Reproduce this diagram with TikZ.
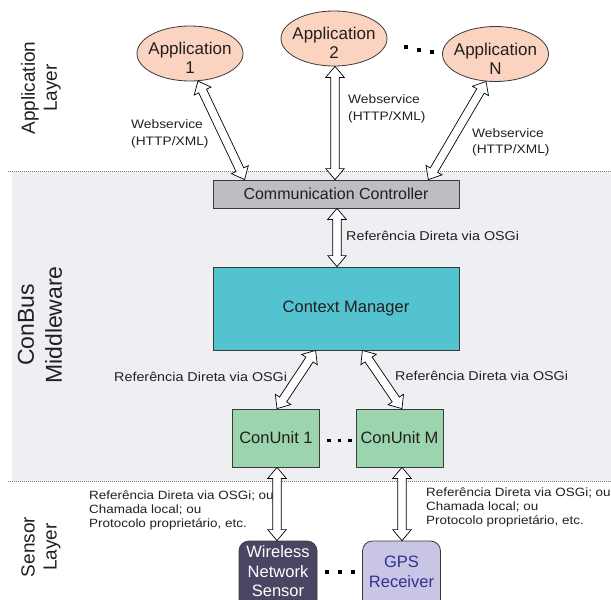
\documentclass[tikz,border=0pt]{standalone}
\usepackage{fontspec}
\setmainfont{Liberation Sans}
\newfontfamily\lblfont[FakeStretch=1.12]{Liberation Sans}
\usetikzlibrary{calc,shapes.geometric}
\definecolor{bandgrey}{HTML}{EEEFF3}
\definecolor{appfill}{HTML}{FBD3C1}
\definecolor{ccfill}{HTML}{BDBEC2}
\definecolor{cmfill}{HTML}{53C4CF}
\definecolor{cufill}{HTML}{9CD4AE}
\definecolor{wnsfill}{HTML}{4B4563}
\definecolor{gpsfill}{HTML}{C8C6E4}
\definecolor{gpstext}{HTML}{2E3192}
\definecolor{txt}{HTML}{231F20}
\definecolor{edge}{HTML}{3A3A3A}
\definecolor{dotgrey}{HTML}{7A7A7A}

\newcommand\hollowarrow[2]{%
  \coordinate (ha1) at ($(#1)!11pt!(#2)$);
  \coordinate (ha2) at ($(#2)!11pt!(#1)$);
  \draw[harrow] (#1) -- ($(ha1)!9.3pt!90:(#2)$) -- ($(ha1)!4.3pt!90:(#2)$)
    -- ($(ha2)!4.3pt!-90:(#1)$) -- ($(ha2)!9.3pt!-90:(#1)$) -- (#2)
    -- ($(ha2)!9.3pt!90:(#1)$) -- ($(ha2)!4.3pt!90:(#1)$)
    -- ($(ha1)!4.3pt!-90:(#2)$) -- ($(ha1)!9.3pt!-90:(#2)$) -- cycle;}

\begin{document}
\begin{tikzpicture}[x=1pt,y=-1pt,
  harrow/.style={draw=black, fill=white, line width=0.7pt, line join=miter},
  appell/.style={ellipse, draw=edge, fill=appfill, line width=0.8pt, minimum width=106pt, minimum height=55pt, inner sep=0pt},
  apptext/.style={align=center, font=\fontsize{17}{19}\selectfont, text=txt, inner sep=0pt},
  ccbox/.style={draw=edge, fill=ccfill, line width=0.8pt, minimum width=246pt, minimum height=28pt, inner sep=0pt, font=\fontsize{16}{19}\selectfont, text=txt},
  cmbox/.style={draw=edge, fill=cmfill, line width=0.8pt, minimum width=246pt, minimum height=83pt, inner sep=0pt, font=\fontsize{16.5}{19}\selectfont, text=txt},
  cubox/.style={draw=edge, fill=cufill, line width=0.8pt, minimum width=87pt, minimum height=58pt, inner sep=0pt, font=\fontsize{16.5}{19}\selectfont, text=txt},
  sensbox/.style={rounded corners=10pt, draw=edge, line width=0.8pt, minimum width=78pt, minimum height=80pt, inner sep=0pt},
  senstext/.style={align=center, font=\fontsize{16.5}{19.5}\selectfont, inner sep=0pt},
  lbl/.style={font=\lblfont\fontsize{12}{14}\selectfont, text=txt, align=left, inner sep=0pt, anchor=west},
  reflbl/.style={lbl, font=\lblfont\fontsize{12.8}{15}\selectfont},
  wslbl/.style={lbl, font=\lblfont\fontsize{12.3}{16.5}\selectfont},
  sidelbl/.style={rotate=90, align=center, font=\fontsize{19}{22}\selectfont, text=txt, inner sep=0pt},
  dotline/.style={dotgrey, line width=0.8pt, dash pattern=on 1pt off 1pt}
]
\useasboundingbox (0,0) rectangle (611,600);
\begin{scope}
\clip (0,0) rectangle (611,600);

% middleware band
\fill[bandgrey] (12,172) rectangle (611,481);
\draw[dotline] (8,171) -- (611,171);
\draw[dotline] (8,481) -- (611,481);

% side labels
\node[sidelbl] (lapp) at (41,88) {Application\\Layer};
\node[sidelbl, font=\fontsize{23}{28}\selectfont] (lmid) at (40,325) {ConBus\\Middleware};
\node[sidelbl] (lsen) at (41,547) {Sensor\\Layer};

% applications
\node[appell] (app1) at (190,53.5) {};
\node[apptext] (app1t) at (190,58) {Application\\1};
\node[appell] (app2) at (334,38.5) {};
\node[apptext] (app2t) at (334,43) {Application\\2};
\node[appell] (appN) at (495.5,54) {};
\node[apptext] (appNt) at (495.5,58.5) {Application\\N};
\fill (404,45) rectangle ++(4,4);
\fill (417,47.5) rectangle ++(4,4);
\fill (430,50) rectangle ++(4,4);

% middleware
\node[ccbox] (cc) at (336,194) {Communication Controller};
\node[cmbox] (cm) at (336,308.5) {\hspace*{20pt}Context Manager};
\node[cubox] (cu1) at (276,438) {ConUnit 1};
\node[cubox] (cuM) at (399.5,438) {ConUnit M};
\fill (327,438.5) rectangle ++(3.5,3.5);
\fill (337.5,438.5) rectangle ++(3.5,3.5);
\fill (348,438.5) rectangle ++(3.5,3.5);

% sensors
\node[sensbox, fill=wnsfill] (wns) at (278,581) {};
\node[senstext, text=white] (wnst) at (278,571.5) {Wireless\\Network\\Sensor};
\node[sensbox, fill=gpsfill] (gps) at (401.5,581) {};
\node[senstext, text=gpstext] (gpst) at (401.5,571.7) {GPS\\Receiver};
\fill (325,570) rectangle ++(4,4);
\fill (338,570) rectangle ++(4,4);
\fill (351,570) rectangle ++(4,4);

% connector end points
\coordinate (a1s) at (app1.-74);
\coordinate (a1e) at ([xshift=32pt]cc.north west);
\coordinate (a2s) at ([xshift=1pt]app2.south);
\coordinate (a2e) at (a2s |- cc.north);
\coordinate (aNs) at (appN.-109);
\coordinate (aNe) at ([xshift=-31pt]cc.north east);
\coordinate (ccs) at ([xshift=1pt]cc.south);
\coordinate (cmn) at (ccs |- cm.north);
\coordinate (cml) at ([xshift=103pt]cm.south west);
\coordinate (cmr) at ([xshift=-97pt]cm.south east);
\coordinate (cu1n) at ([xshift=1pt]cu1.north);
\coordinate (cuMn) at ([xshift=2.5pt]cuM.north);
\coordinate (cu1s) at ([xshift=1pt]cu1.south);
\coordinate (cuMs) at ([xshift=2.5pt]cuM.south);
\coordinate (wnsn) at (cu1s |- wns.north);
\coordinate (gpsn) at (cuMs |- gps.north);

\hollowarrow{a1s}{a1e}
\hollowarrow{a2s}{a2e}
\hollowarrow{aNs}{aNe}
\hollowarrow{ccs}{cmn}
\hollowarrow{cml}{cu1n}
\hollowarrow{cmr}{cuMn}
\hollowarrow{cu1s}{wnsn}
\hollowarrow{cuMs}{gpsn}

% connector labels
\node[wslbl] (ws1) at (131,134) {Webservice\\(HTTP/XML)};
\node[wslbl] (ws2) at (348,109) {Webservice\\(HTTP/XML)};
\node[wslbl] (wsN) at (472,142.5) {Webservice\\(HTTP/XML)};
\node[reflbl] (rcc) at (346,236) {Referência Direta via OSGi};
\node[reflbl] (rl) at (114,377) {Referência Direta via OSGi};
\node[reflbl] (rr) at (395,376) {Referência Direta via OSGi};
\node[lbl] (sl) at (89,510) {Referência Direta via OSGi; ou\\Chamada local; ou\\Protocolo proprietário, etc.};
\node[lbl] (sr) at (426,507) {Referência Direta via OSGi; ou\\Chamada local; ou\\Protocolo proprietário, etc.};
\end{scope}
\end{tikzpicture}
\end{document}
